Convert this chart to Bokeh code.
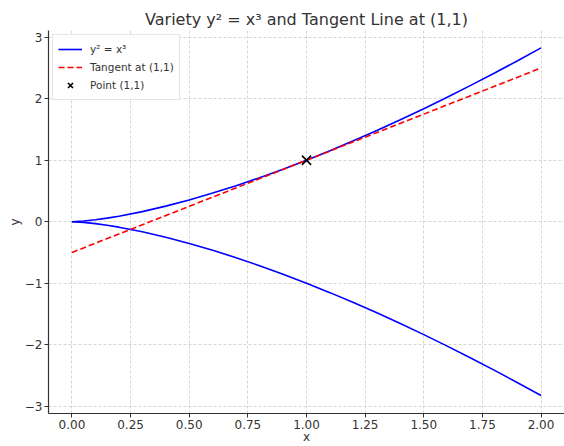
import math
from bokeh.plotting import figure
from bokeh.models import Range1d, FixedTicker, Legend, LegendItem
from bokeh.embed import file_html
from bokeh.resources import INLINE

curve_x = [0.0, 0.05, 0.1, 0.15, 0.2, 0.3, 0.4, 0.5, 0.6, 0.7, 0.8, 0.9, 1.0,
           1.1, 1.2, 1.3, 1.4, 1.5, 1.6, 1.7, 1.8, 1.9, 2.0]
upper_y = [0.0, 0.011, 0.032, 0.058, 0.089, 0.164, 0.253, 0.354, 0.465, 0.586,
           0.716, 0.854, 1.0, 1.154, 1.315, 1.482, 1.657, 1.837, 2.024, 2.217,
           2.415, 2.619, 2.828]
lower_y = [0.0, -0.011, -0.032, -0.058, -0.089, -0.164, -0.253, -0.354, -0.465,
           -0.586, -0.716, -0.854, -1.0, -1.154, -1.315, -1.482, -1.657, -1.837,
           -2.024, -2.217, -2.415, -2.619, -2.828]

tangent_x = [0.0, 2.0]
tangent_y = [-0.5, 2.5]

point_x = [1.0]
point_y = [1.0]

x_ticks = [0.0, 0.25, 0.5, 0.75, 1.0, 1.25, 1.5, 1.75, 2.0]
x_tick_labels = ["0.00", "0.25", "0.50", "0.75", "1.00", "1.25", "1.50", "1.75", "2.00"]
y_ticks = [-3, -2, -1, 0, 1, 2, 3]
y_tick_labels = ["\u22123", "\u22122", "\u22121", "0", "1", "2", "3"]

FONT = "DejaVu Sans"

p = figure(width=564, height=446, output_backend="svg", toolbar_location=None,
           x_range=Range1d(-0.1, 2.1), y_range=Range1d(-3.12, 3.11),
           min_border_left=48, min_border_right=0, min_border_top=30,
           min_border_bottom=31)

p.title.text = "Variety y\u00b2 = x\u00b3 and Tangent Line at (1,1)"
p.title.align = "center"
p.title.text_font = FONT
p.title.text_font_size = "16px"
p.title.text_font_style = "normal"
p.title.text_color = "#333333"
p.title.offset = 0
p.title.standoff = 4

p.outline_line_color = None
p.background_fill_color = "white"
p.border_fill_color = "white"

for ax in (p.xaxis[0], p.yaxis[0]):
    ax.major_label_text_font = FONT
    ax.major_label_text_font_size = "12px"
    ax.major_label_text_color = "#333333"
    ax.axis_line_color = "#333333"
    ax.axis_line_width = 1.2
    ax.major_tick_line_color = "#333333"
    ax.major_tick_out = 4
    ax.major_tick_in = 0
    ax.minor_tick_line_color = None
    ax.major_label_standoff = 2
    ax.axis_label_text_font = FONT
    ax.axis_label_text_font_size = "12px"
    ax.axis_label_text_font_style = "normal"
    ax.axis_label_text_color = "#333333"

p.xaxis[0].ticker = FixedTicker(ticks=x_ticks)
p.xaxis[0].major_label_overrides = {t: l for t, l in zip(x_ticks, x_tick_labels)}
p.yaxis[0].ticker = FixedTicker(ticks=y_ticks)
p.yaxis[0].major_label_overrides = {t: l for t, l in zip(y_ticks, y_tick_labels)}

p.xaxis[0].axis_label = "x"
p.xaxis[0].axis_label_standoff = -2
p.yaxis[0].axis_label = "y"
p.yaxis[0].axis_label_standoff = 0

p.xgrid.ticker = FixedTicker(ticks=x_ticks)
p.ygrid.ticker = FixedTicker(ticks=y_ticks)
for g in (p.xgrid[0], p.ygrid[0]):
    g.grid_line_color = "#cccccc"
    g.grid_line_dash = "3 2"
    g.grid_line_width = 0.8

r_up = p.line(curve_x, upper_y, line_color="#0000ff", line_width=1.6)
r_lo = p.line(curve_x, lower_y, line_color="#0000ff", line_width=1.6)
r_tan = p.line(tangent_x, tangent_y, line_color="#ff0000", line_width=1.6,
               line_dash="6 3")
r_pt = p.scatter(point_x, point_y, marker="x", size=13, line_color="black",
                 line_width=1.6)

legend = Legend(items=[
    LegendItem(label="y\u00b2 = x\u00b3", renderers=[r_up]),
    LegendItem(label="Tangent at (1,1)", renderers=[r_tan]),
    LegendItem(label="Point (1,1)", renderers=[r_pt]),
], location="top_left")
legend.label_text_font = FONT
legend.label_text_font_size = "10.5px"
legend.label_text_color = "#333333"
legend.border_line_color = "#cccccc"
legend.border_line_width = 1
legend.background_fill_alpha = 0.9
legend.margin = 4
legend.padding = 5
legend.spacing = 0
legend.glyph_width = 24
legend.glyph_height = 18
legend.label_height = 18
legend.label_standoff = 8
p.add_layout(legend)

open("out.html", "w").write(file_html(p, INLINE))
